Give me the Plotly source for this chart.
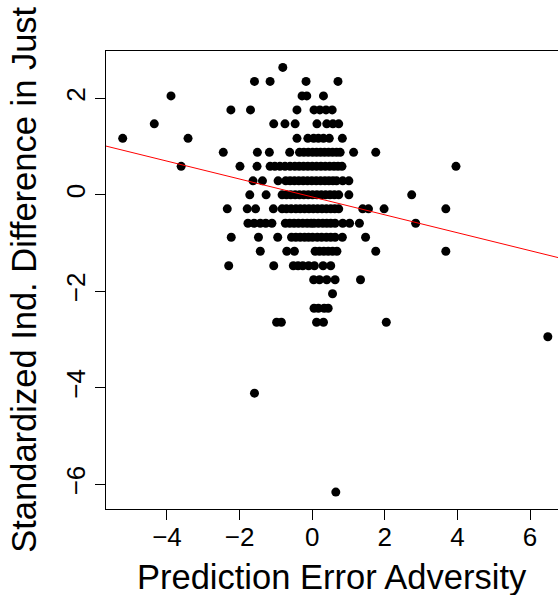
import plotly.graph_objects as go

# ---- data ----
adversity = [
    -0.81,
    -1.59, -1.16, -0.17, 0.71,
    -3.89, -0.28, -0.15, 0.31,
    -2.24, -1.70, -0.42, 0.05, 0.21, 0.38, 0.55,
    -4.35, -1.06, -0.75, -0.47, 0.13, 0.40, 0.57, 0.73,
    -5.22, -3.42, -0.42, -0.12, 0.04, 0.17, 0.31, 0.47, 0.83,
    -2.45, -1.51, -1.18, -0.62, -0.35, -0.23, -0.11, 0.01, 0.12, 0.23, 0.34, 0.45, 0.56, 0.67, 0.77, 1.14, 1.75,
    -3.61, -1.99, -1.52, -1.16, -1.03, -0.89, -0.75, -0.61, -0.48, -0.36, -0.24, -0.12, 0.00, 0.12, 0.24, 0.36, 0.48, 0.60, 0.71, 0.82, 3.96,
    -1.63, -1.37, -0.94, -0.73, -0.61, -0.49, -0.37, -0.25, -0.13, -0.01, 0.11, 0.23, 0.35, 0.46, 0.57, 0.67, 0.84, 1.01,
    -1.72, -1.27, -0.83, -0.71, -0.59, -0.47, -0.35, -0.23, -0.11, 0.01, 0.13, 0.25, 0.37, 0.49, 0.61, 0.73, 1.01, 2.74,
    -2.34, -1.79, -1.56, -1.07, -0.83, -0.71, -0.58, -0.45, -0.33, -0.21, -0.09, 0.03, 0.15, 0.27, 0.39, 0.51, 0.62, 0.73, 1.39, 1.55, 1.98, 3.68,
    -1.77, -1.60, -1.43, -1.28, -1.11, -0.74, -0.62, -0.50, -0.38, -0.26, -0.14, -0.03, 0.05, 0.17, 0.29, 0.40, 0.51, 0.63, 0.84, 1.03, 1.30, 2.85,
    -2.23, -1.48, -0.95, -0.57, -0.45, -0.33, -0.21, -0.10, 0.01, 0.14, 0.26, 0.39, 0.51, 0.63, 0.83, 1.47,
    -1.43, -0.70, -0.49, 0.08, 0.20, 0.32, 0.44, 0.56, 0.68, 1.75, 3.68,
    -2.30, -1.06, -0.52, -0.39, -0.26, -0.10, 0.06, 0.30, 0.51,
    0.04, 0.20, 0.40, 0.63, 1.33,
    0.56,
    0.05, 0.17, 0.33, 0.44,
    -0.98, -0.85, 0.12, 0.31, 2.04,
    6.49,
    -1.59,
    0.65,
]

just_diff = [
    2.64,
    2.35, 2.35, 2.35, 2.35,
    2.05, 2.05, 2.05, 2.05,
    1.76, 1.76, 1.76, 1.76, 1.76, 1.76, 1.76,
    1.47, 1.47, 1.47, 1.47, 1.47, 1.47, 1.47, 1.47,
    1.17, 1.17, 1.17, 1.17, 1.17, 1.17, 1.17, 1.17, 1.17,
    0.88, 0.88, 0.88, 0.88, 0.88, 0.88, 0.88, 0.88, 0.88, 0.88, 0.88, 0.88, 0.88, 0.88, 0.88, 0.88, 0.88,
    0.59, 0.59, 0.59, 0.59, 0.59, 0.59, 0.59, 0.59, 0.59, 0.59, 0.59, 0.59, 0.59, 0.59, 0.59, 0.59, 0.59, 0.59, 0.59, 0.59, 0.59,
    0.29, 0.29, 0.29, 0.29, 0.29, 0.29, 0.29, 0.29, 0.29, 0.29, 0.29, 0.29, 0.29, 0.29, 0.29, 0.29, 0.29, 0.29,
    0.00, 0.00, 0.00, 0.00, 0.00, 0.00, 0.00, 0.00, 0.00, 0.00, 0.00, 0.00, 0.00, 0.00, 0.00, 0.00, 0.00, 0.00,
    -0.29, -0.29, -0.29, -0.29, -0.29, -0.29, -0.29, -0.29, -0.29, -0.29, -0.29, -0.29, -0.29, -0.29, -0.29, -0.29, -0.29, -0.29, -0.29, -0.29, -0.29, -0.29,
    -0.59, -0.59, -0.59, -0.59, -0.59, -0.59, -0.59, -0.59, -0.59, -0.59, -0.59, -0.59, -0.59, -0.59, -0.59, -0.59, -0.59, -0.59, -0.59, -0.59, -0.59, -0.59,
    -0.88, -0.88, -0.88, -0.88, -0.88, -0.88, -0.88, -0.88, -0.88, -0.88, -0.88, -0.88, -0.88, -0.88, -0.88, -0.88,
    -1.17, -1.17, -1.17, -1.17, -1.17, -1.17, -1.17, -1.17, -1.17, -1.17, -1.17,
    -1.47, -1.47, -1.47, -1.47, -1.47, -1.47, -1.47, -1.47, -1.47,
    -1.76, -1.76, -1.76, -1.76, -1.76,
    -2.05,
    -2.35, -2.35, -2.35, -2.35,
    -2.64, -2.64, -2.64, -2.64, -2.64,
    -2.94,
    -4.11,
    -6.16,
]

# fitted regression line
fit_intercept = -0.044
fit_slope = -0.1855

x_ticks = [-4, -2, 0, 2, 4, 6]
y_ticks = [-6, -4, -2, 0, 2]

x_title = "Prediction Error Adversity"
y_title = "Standardized Ind. Difference in Just"

assert len(adversity) == len(just_diff)

x_range = [-5.68, 6.77]
y_range = [-6.51, 2.98]

font_family = "Liberation Sans, Arial, Helvetica, sans-serif"

fig = go.Figure()
fig.add_trace(go.Scatter(
    x=adversity, y=just_diff, mode="markers",
    marker=dict(color="black", size=9, line=dict(width=0)),
    hoverinfo="skip", showlegend=False,
))
fig.add_trace(go.Scatter(
    x=x_range, y=[fit_intercept + fit_slope * v for v in x_range],
    xaxis="x2", yaxis="y",
    mode="lines", line=dict(color="red", width=1),
    hoverinfo="skip", showlegend=False,
))

fig.update_layout(
    width=558, height=595,
    margin=dict(l=106, r=0, t=51, b=86, autoexpand=False),
    paper_bgcolor="white", plot_bgcolor="white",
    font=dict(family=font_family, color="black"),
    showlegend=False,
    xaxis=dict(
        range=x_range, tickvals=x_ticks, automargin=False,
        ticks="outside", ticklen=5, tickwidth=1, tickcolor="black",
        showline=True, linecolor="black", linewidth=1, mirror=True,
        showgrid=False, zeroline=False,
        tickfont=dict(size=26, family=font_family, color="black"),
    ),
    # overlay axis carrying the longer tick marks (no labels)
    xaxis2=dict(
        range=x_range, tickvals=x_ticks, automargin=False,
        overlaying="x", side="bottom", anchor="y",
        ticks="outside", ticklen=10, tickwidth=1, tickcolor="black",
        showticklabels=False, showline=False,
        showgrid=False, zeroline=False,
    ),
    yaxis=dict(
        range=y_range, tickvals=y_ticks, tickangle=-90, automargin=False,
        ticks="outside", ticklen=10, tickwidth=1, tickcolor="black",
        showline=True, linecolor="black", linewidth=1, mirror=False,
        showgrid=False, zeroline=False,
        tickfont=dict(size=26, family=font_family, color="black"),
    ),
)

# axis titles placed as annotations (relative to the plot area)
fig.add_annotation(
    text=x_title, xref="paper", yref="paper", x=0.5, y=-0.148,
    xanchor="center", yanchor="middle", showarrow=False,
    font=dict(size=34.5, family=font_family, color="black"),
)
fig.add_annotation(
    text=y_title, xref="paper", yref="paper", x=-0.182, y=0.5,
    xanchor="center", yanchor="middle", textangle=-90, showarrow=False,
    font=dict(size=34.5, family=font_family, color="black"),
)

fig.write_html(
    "out.html",
    config={"displayModeBar": False, "staticPlot": True},
    post_script="document.body.style.margin='0px';document.body.style.overflow='hidden';",
)
